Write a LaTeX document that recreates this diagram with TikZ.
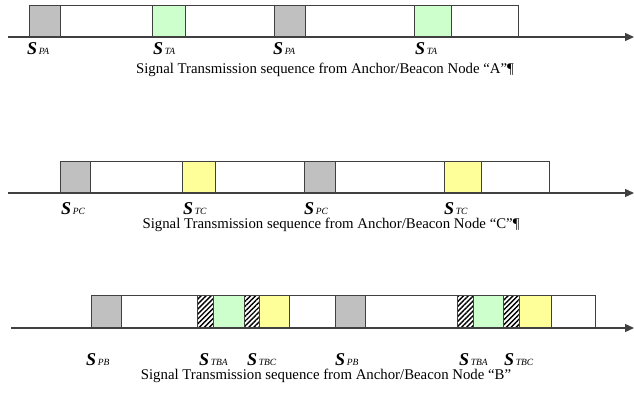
\documentclass[tikz,border=0pt]{standalone}
\usepackage{fontspec}
\setmainfont{Liberation Serif}
\usetikzlibrary{patterns.meta,arrows.meta}
\definecolor{slotgray}{HTML}{C0C0C0}
\definecolor{slotgreen}{HTML}{CCFFCC}
\definecolor{slotyellow}{HTML}{FFFF99}
\definecolor{edge}{HTML}{404040}
\newcommand{\slab}[1]{{\fontsize{18}{18}\selectfont\bfseries\itshape S}\,{\fontsize{9.5}{10}\selectfont\itshape #1}}
\begin{document}
\begin{tikzpicture}[x=1pt,y=-1pt,
  axis/.style={draw=edge,line width=1.3pt,-{Triangle[length=9pt,width=8pt]}},
  frame/.style={draw=edge,line width=0.8pt,fill=white},
  pslot/.style={frame,fill=slotgray},
  gslot/.style={frame,fill=slotgreen},
  yslot/.style={frame,fill=slotyellow},
  hslot/.style={draw=edge,line width=0.8pt,pattern={Lines[angle=45,distance=3.5pt,line width=1.4pt]}},
  lbl/.style={anchor=base west,inner sep=0pt},
  captxt/.style={anchor=base,inner sep=0pt,font=\fontsize{14.8}{15}\selectfont}]
\useasboundingbox (0,0) rectangle (634,393);
% ---- Row A ----
\coordinate (a0) at (8,37); \coordinate (a1) at (634,37);
\draw[frame] (29,5) rectangle (518,37);
\draw[pslot] (29,5) rectangle (60,37);
\draw[gslot] (152,5) rectangle (185,37);
\draw[pslot] (274,5) rectangle (305,37);
\draw[gslot] (414,5) rectangle (451,37);
\draw[axis] (a0) -- (a1);
\node[lbl] (la1) at (27,55) {\slab{PA}};
\node[lbl] (la2) at (153,55) {\slab{TA}};
\node[lbl] (la3) at (273,55) {\slab{PA}};
\node[lbl] (la4) at (415,55) {\slab{TA}};
\node[captxt] (capA) at (325,74) {Signal Transmission sequence from Anchor/Beacon Node “A”¶};
% ---- Row C ----
\coordinate (c0) at (8,193); \coordinate (c1) at (634,193);
\draw[frame] (60,161) rectangle (549,193);
\draw[pslot] (60,161) rectangle (90,193);
\draw[yslot] (182,161) rectangle (215,193);
\draw[pslot] (304,161) rectangle (335,193);
\draw[yslot] (444,161) rectangle (481,193);
\draw[axis] (c0) -- (c1);
\node[lbl] (lc1) at (61,214) {\slab{PC}};
\node[lbl] (lc2) at (183,214) {\slab{TC}};
\node[lbl] (lc3) at (304,214) {\slab{PC}};
\node[lbl] (lc4) at (444,214) {\slab{TC}};
\node[captxt] (capC) at (331,228) {Signal Transmission sequence from Anchor/Beacon Node “C”¶};
% ---- Row B ----
\coordinate (b0) at (11,328); \coordinate (b1) at (634,328);
\draw[frame] (91,295) rectangle (595,328);
\draw[pslot] (91,295) rectangle (121,328);
\draw[hslot] (197,295) rectangle (213,328);
\draw[gslot] (213,295) rectangle (244,328);
\draw[hslot] (244,295) rectangle (259,328);
\draw[yslot] (259,295) rectangle (289,328);
\draw[pslot] (335,295) rectangle (365,328);
\draw[hslot] (457,295) rectangle (473,328);
\draw[gslot] (473,295) rectangle (503,328);
\draw[hslot] (503,295) rectangle (519,328);
\draw[yslot] (519,295) rectangle (551,328);
\draw[axis] (b0) -- (b1);
\node[lbl] (lb1) at (86,365) {\slab{PB}};
\node[lbl] (lb2) at (199,365) {\slab{TBA}};
\node[lbl] (lb3) at (247,365) {\slab{TBC}};
\node[lbl] (lb4) at (335,365) {\slab{PB}};
\node[lbl] (lb5) at (459,365) {\slab{TBA}};
\node[lbl] (lb6) at (504,365) {\slab{TBC}};
\node[captxt] (capB) at (326,379) {Signal Transmission sequence from Anchor/Beacon Node “B”};
\end{tikzpicture}
\end{document}
